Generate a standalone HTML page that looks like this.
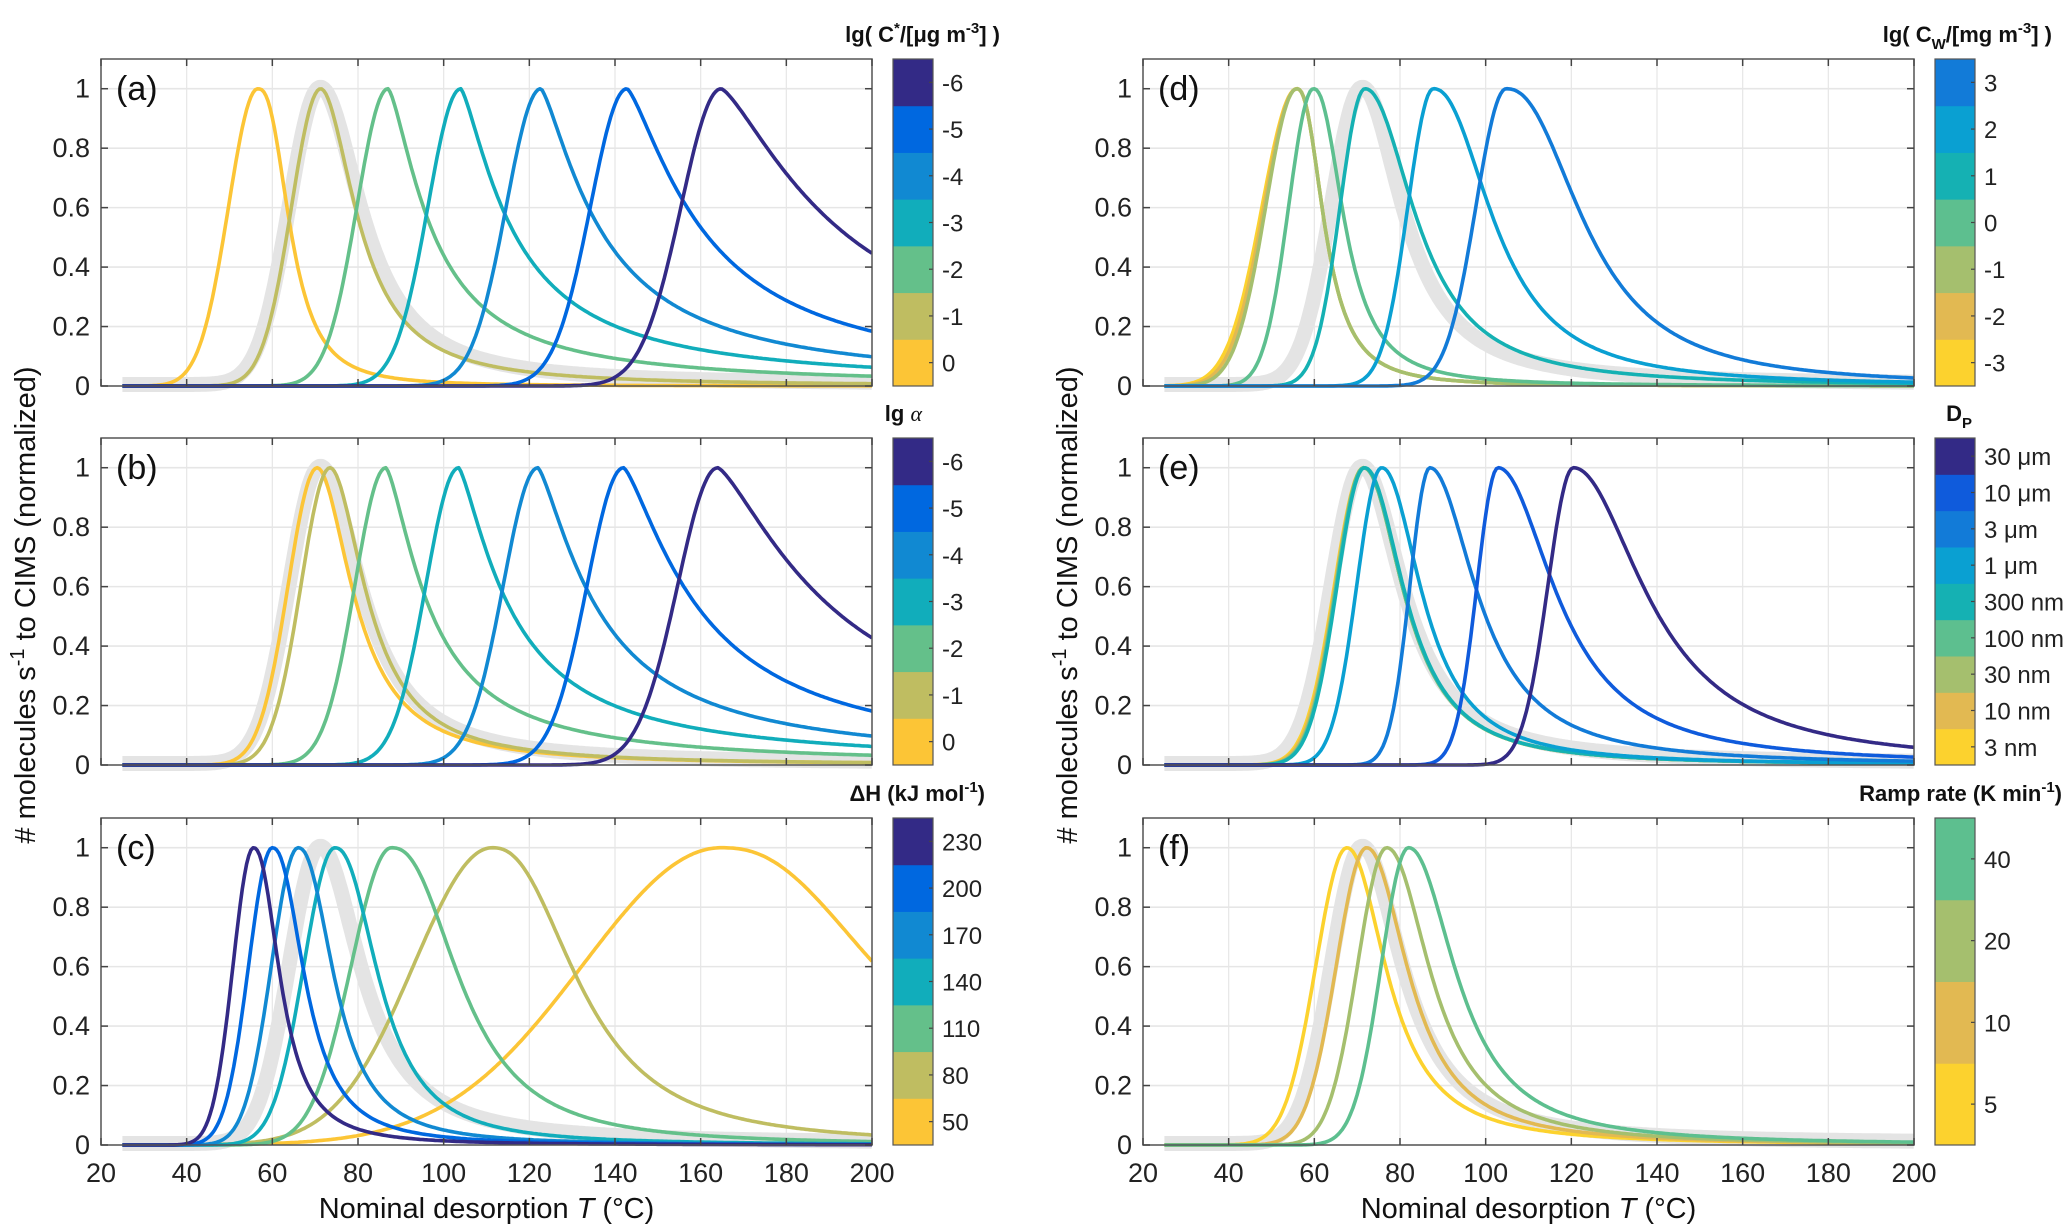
<!DOCTYPE html>
<html><head><meta charset="utf-8">
<style>
html,body{margin:0;padding:0;background:#fff;}
svg{display:block;font-family:"Liberation Sans",Arial,sans-serif;}
</style></head>
<body>
<svg id="fig" xmlns="http://www.w3.org/2000/svg" width="2067" height="1231" viewBox="0 0 2067 1231"></svg>
<script>
// ---- data (peak temperature, left half-width, right half-width, right tail exponent) ----
const ticksX = [20,40,60,80,100,120,140,160,180,200];
const ticksY = [0,0.2,0.4,0.6,0.8,1];
const refPeak = 71.2, refLeft = 8.5, refRight = 11.5, refExp = 2.0;

const aPeak  = [56.6, 71.3, 87.0, 104.0, 122.7, 142.8, 164.8];
const aLeft  = [8.0, 8.0, 8.5, 9.0, 9.5, 10.0, 11.0];
const aRight = [8.0, 10.0, 11.0, 13.0, 15.0, 19.0, 30.0];
const aExp   = [2.6, 1.9, 1.45, 1.35, 1.35, 1.35, 1.35];
const aColors= ["#FCC536","#BFBD61","#64C08A","#11ADBB","#1189D2","#0068E0","#332A86"];
const aLabels= ["0","-1","-2","-3","-4","-5","-6"];

const bPeak  = [70.5, 73.5, 86.5, 103.5, 122.0, 142.0, 164.0];
const bLeft  = [8.0, 8.0, 8.5, 9.0, 9.5, 10.0, 11.0];
const bRight = [10.0, 10.0, 11.0, 13.0, 15.0, 19.0, 29.0];
const bExp   = [1.9, 1.9, 1.45, 1.35, 1.35, 1.35, 1.35];
const bColors= aColors;
const bLabels= ["0","-1","-2","-3","-4","-5","-6"];

const cPeak  = [164.8, 111.3, 87.8, 74.6, 66.0, 60.0, 55.6];
const cLeft  = [38.0, 21.5, 11.0, 8.5, 7.3, 6.5, 5.6];
const cRight = [43.0, 22.0, 17.6, 11.5, 9.5, 8.5, 7.0];
const cExp   = [2.4, 2.4, 2.4, 2.3, 2.3, 2.3, 2.3];
const cColors= ["#FCC536","#BFBD61","#64C08A","#11ADBB","#1189D2","#0068E0","#332A86"];
const cLabels= ["50","80","110","140","170","200","230"];

const dPeak  = [55.9, 55.9, 55.9, 59.8, 71.8, 87.8, 104.8];
const dLeft  = [9.5, 9.0, 8.5, 6.8, 6.8, 7.0, 8.3];
const dRight = [7.0, 7.0, 7.0, 8.0, 13.7, 15.7, 20.0];
const dExp   = [2.4, 2.4, 2.4, 2.3, 2.1, 2.2, 2.3];
const dColors= ["#FCD22E","#E2B952","#A5BF6E","#5DBF8F","#15B1B3","#0AA0D2","#127BD8"];
const dLabels= ["-3","-2","-1","0","1","2","3"];

const ePeak  = [71.5, 71.5, 71.5, 71.5, 71.7, 75.7, 87.0, 102.9, 120.5];
const eLeft  = [8.0, 7.8, 7.6, 7.5, 7.5, 6.8, 5.5, 5.8, 7.0];
const eRight = [11.0, 11.0, 11.0, 11.0, 11.0, 11.0, 13.0, 16.0, 20.0];
const eExp   = [2.1, 2.1, 2.1, 2.1, 2.1, 2.1, 2.0, 2.0, 2.0];
const eColors= ["#FCD22E","#E2B952","#A5BF6E","#5DBF8F","#15B1B3","#0AA0D2","#127BD8","#0F5BDC","#332A86"];
const eLabels= ["3 nm","10 nm","30 nm","100 nm","300 nm","1 μm","3 μm","10 μm","30 μm"];

const fPeak  = [67.6, 72.2, 76.9, 82.0];
const fLeft  = [8.5, 8.3, 8.0, 7.5];
const fRight = [11.0, 11.5, 12.0, 13.0];
const fExp   = [2.1, 2.1, 2.1, 2.1];
const fColors= ["#FCD22E","#E2B952","#A5BF6E","#5DBF8F"];
const fLabels= ["5","10","20","40"];

// ---- layout ----
const NS="http://www.w3.org/2000/svg";
const svg=document.getElementById('fig');
const AW=771, AH=327;
function el(tag,attrs,parent){const e=document.createElementNS(NS,tag);for(const k in attrs)e.setAttribute(k,attrs[k]);(parent||svg).appendChild(e);return e;}
function shape(T,p,l,r,ex){
  if(T<=p){const d=(p-T)/l;return Math.exp(-d*d*Math.LN2);}
  const d=(T-p)/r;return 1/(1+Math.pow(d,ex));
}
function drawPanel(letter,L,Tp,peaks,lefts,rights,exps,colors,labels,cbTitle,showX){
  const g=el('g',{});
  
  
  const xs=T=>L+(T-20)/180*AW;
  const ys=v=>Tp+AH-v/1.1*AH;
  el('rect',{x:L,y:Tp,width:AW,height:AH,fill:'#fff'},g);
  ticksX.forEach(t=>{const l=el('line',{x1:xs(t),x2:xs(t),y1:Tp,y2:Tp+AH,stroke:'#e6e6e6','stroke-width':1.2},g);
    });
  ticksY.forEach(t=>{const l=el('line',{x1:L,x2:L+AW,y1:ys(t),y2:ys(t),stroke:'#e6e6e6','stroke-width':1.6},g);
    });
  const clip='clip'+letter;
  const cp=el('clipPath',{id:clip},g);el('rect',{x:L,y:Tp-10,width:AW,height:AH+40},cp);
  const cg=el('g',{'clip-path':'url(#'+clip+')'},g);
  function path(p,l,r,ex,off){let d='';for(let T=25;T<=200.001;T+=0.5){const v=shape(T,p,l,r,ex)+(off||0);d+=(d?'L':'M')+xs(T).toFixed(1)+','+ys(v).toFixed(1);}return d;}
  const ref=el('path',{d:path(refPeak,refLeft,refRight,refExp,0.005),fill:'none',stroke:'#e4e4e4','stroke-width':15,'stroke-linejoin':'round'},cg);
  
  
  peaks.forEach((p,i)=>{
    const c=el('path',{d:path(p,lefts[i],rights[i],exps[i]),fill:'none',stroke:colors[i],'stroke-width':3.6,'stroke-linejoin':'round'},cg);
    
    
  });
  el('rect',{x:L,y:Tp,width:AW,height:AH,fill:'none',stroke:'#555','stroke-width':1.5},g);
  ticksX.forEach(t=>{el('line',{x1:xs(t),x2:xs(t),y1:Tp+AH,y2:Tp+AH-7,stroke:'#444','stroke-width':1.5},g);
    el('line',{x1:xs(t),x2:xs(t),y1:Tp,y2:Tp+7,stroke:'#444','stroke-width':1.5},g);
    if(showX){const tx=el('text',{x:xs(t),y:Tp+AH+37,'font-size':27,'text-anchor':'middle',fill:'#222'},g);tx.textContent=t;
      }});
  ticksY.forEach(t=>{el('line',{x1:L,x2:L+7,y1:ys(t),y2:ys(t),stroke:'#444','stroke-width':1.5},g);
    el('line',{x1:L+AW,x2:L+AW-7,y1:ys(t),y2:ys(t),stroke:'#444','stroke-width':1.5},g);
    const tx=el('text',{x:L-11,y:ys(t)+9,'font-size':27,'text-anchor':'end',fill:'#222'},g);tx.textContent=t;
    });
  const lt=el('text',{x:L+15,y:Tp+41,'font-size':34,fill:'#111'},g);lt.textContent='('+letter+')';
  
  const cbx=L+AW+21, cbw=40, n=colors.length, sh=AH/n;
  const cb=el('g',{},g);
  
  
  colors.forEach((c,i)=>{el('rect',{x:cbx,y:Tp+AH-(i+1)*sh,width:cbw,height:sh+0.5,fill:c},cb);
    el('line',{x1:cbx+cbw,x2:cbx+cbw-4,y1:Tp+AH-(i+0.5)*sh,y2:Tp+AH-(i+0.5)*sh,stroke:'#444','stroke-width':1.2},cb);
    const tx=el('text',{x:cbx+cbw+9,y:Tp+AH-(i+0.5)*sh+9,'font-size':24,fill:'#222'},cb);tx.textContent=labels[i];
    });
  el('rect',{x:cbx,y:Tp,width:cbw,height:AH,fill:'none',stroke:'#555','stroke-width':1.2},cb);
  const ct=el('text',{x:cbTitle.x,y:Tp-17,'font-size':22,'font-weight':'bold','text-anchor':'end',fill:'#111'},g);
  ct.innerHTML=cbTitle.html;
  
}
const tops=[59,438,818], LL=101, LR=1143;
drawPanel('a',LL,tops[0],aPeak,aLeft,aRight,aExp,aColors,aLabels,{x:1000,html:'lg( C<tspan dy="-9" font-size="15">*</tspan><tspan dy="9">/[μg m</tspan><tspan dy="-9" font-size="15">-3</tspan><tspan dy="9">] )</tspan>'},false);
drawPanel('b',LL,tops[1],bPeak,bLeft,bRight,bExp,bColors,bLabels,{x:922,html:'lg <tspan font-style="italic" font-weight="normal" font-family="Liberation Serif">α</tspan>'},false);
drawPanel('c',LL,tops[2],cPeak,cLeft,cRight,cExp,cColors,cLabels,{x:985,html:'ΔH (kJ mol<tspan dy="-9" font-size="15">-1</tspan><tspan dy="9">)</tspan>'},true);
drawPanel('d',LR,tops[0],dPeak,dLeft,dRight,dExp,dColors,dLabels,{x:2052,html:'lg( C<tspan dy="7" font-size="15">W</tspan><tspan dy="-7">/[mg m</tspan><tspan dy="-9" font-size="15">-3</tspan><tspan dy="9">] )</tspan>'},false);
drawPanel('e',LR,tops[1],ePeak,eLeft,eRight,eExp,eColors,eLabels,{x:1972,html:'D<tspan dy="7" font-size="15">P</tspan>'},false);
drawPanel('f',LR,tops[2],fPeak,fLeft,fRight,fExp,fColors,fLabels,{x:2062,html:'Ramp rate (K min<tspan dy="-9" font-size="15">-1</tspan><tspan dy="9">)</tspan>'},true);

[[LL,'x-axis-title-left'],[LR,'x-axis-title-right']].forEach(([L,n])=>{
  const t=el('text',{x:L+AW/2,y:1218,'font-size':29,'text-anchor':'middle',fill:'#111'});
  t.innerHTML='Nominal desorption <tspan font-style="italic">T</tspan> (°C)';
  
  
});
[[35,'y-axis-title-left'],[1077,'y-axis-title-right']].forEach(([x,n])=>{
  const t=el('text',{x:x,y:605,'font-size':29,'text-anchor':'middle',fill:'#111',transform:'rotate(-90 '+x+' 605)'});
  t.innerHTML='# molecules s<tspan dy="-11" font-size="20">-1</tspan><tspan dy="11"> to CIMS (normalized)</tspan>';
  
  
});
</script>
</body></html>
